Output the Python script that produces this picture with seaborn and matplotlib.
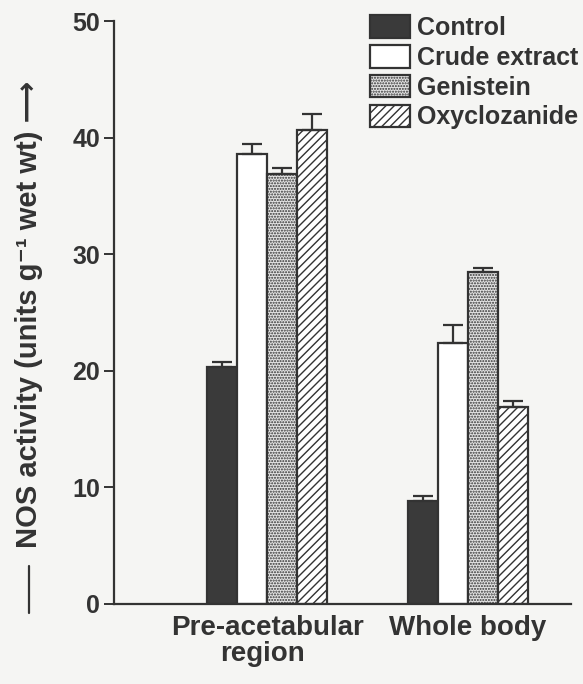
import numpy as np
import pandas as pd
import matplotlib
matplotlib.use('Agg')
import matplotlib.pyplot as plt
from matplotlib.lines import Line2D
import seaborn as sns

# values
regions = ['Pre-acetabular', 'Whole body']
treatments = ['Control', 'Crude extract', 'Genistein', 'Oxyclozanide']
control = [20.3, 8.8]
crude_extract = [38.6, 22.4]
genistein = [36.9, 28.5]
oxyclozanide = [40.7, 16.9]
control_err = [0.5, 0.5]
crude_extract_err = [0.9, 1.5]
genistein_err = [0.5, 0.3]
oxyclozanide_err = [1.3, 0.5]

means = [control, crude_extract, genistein, oxyclozanide]
errs = [control_err, crude_extract_err, genistein_err, oxyclozanide_err]

rows = []
for t, m, e in zip(treatments, means, errs):
    for r, v, s in zip(regions, m, e):
        rows.append({'region': r, 'treatment': t, 'nos': v, 'err': s})
df = pd.DataFrame(rows)

sns.set_style('ticks')
plt.rcParams['font.family'] = ['Liberation Sans', 'DejaVu Sans']
plt.rcParams['font.weight'] = 'bold'
plt.rcParams['hatch.linewidth'] = 1.0
plt.rcParams['hatch.color'] = '#333333'

bg = '#f5f5f3'
fig = plt.figure(figsize=(5.83, 6.84), dpi=100, facecolor=bg)
ax = fig.add_axes([0.1955, 0.117, 0.784, 0.852])
ax.set_facecolor(bg)

face = {'Control': '#3a3a3a', 'Crude extract': 'white',
        'Genistein': '#e4e4e4', 'Oxyclozanide': 'white'}
hatch = {'Control': '', 'Crude extract': '', 'Genistein': '......', 'Oxyclozanide': '////'}

sns.barplot(data=df, x='region', y='nos', hue='treatment', order=regions,
            hue_order=treatments, palette=face, width=0.6, errorbar=None,
            edgecolor='#333333', linewidth=1.6, ax=ax, legend=True)

# seaborn draws bars grouped by hue
for i, t in enumerate(treatments):
    for j, r in enumerate(regions):
        p = ax.patches[i * len(regions) + j]
        p.set_hatch(hatch[t])
        x = p.get_x() + p.get_width() / 2
        y = p.get_height()
        e = df[(df.treatment == t) & (df.region == r)]['err'].iloc[0]
        ax.errorbar(x, y, yerr=[[0], [e]], fmt='none', ecolor='#333333',
                    elinewidth=1.6, capsize=7, capthick=1.6, zorder=1)

ax.set_ylim(0, 50)
ax.set_xlim(-0.761, 1.512)
ax.set_yticks([0, 10, 20, 30, 40, 50])
ax.tick_params(axis='y', direction='out', length=7, width=1.4, labelsize=18,
               color='#333333', labelcolor='#333333', pad=3)
ax.tick_params(axis='x', length=0, labelsize=20, pad=8, labelcolor='#333333')
for lab in ax.get_yticklabels() + ax.get_xticklabels():
    lab.set_fontweight('bold')
sns.despine(ax=ax)
for s in ['left', 'bottom']:
    ax.spines[s].set_linewidth(1.6)
    ax.spines[s].set_color('#333333')

ax.set_xlabel('region', fontsize=20, fontweight='bold', color='#333333')
ax.xaxis.set_label_coords(0.324, -0.064)
ax.set_ylabel('NOS activity (units g\u207b\u00b9 wet wt) \u27f6',
              fontsize=21, fontweight='bold', color='#333333')
ax.yaxis.label.set_verticalalignment('center')
ax.yaxis.set_label_coords(-0.186, 0.497)
fig.add_artist(Line2D([29 / 583, 29 / 583], [1 - 613 / 684, 1 - 566 / 684],
                      color='#333333', lw=1.6))

handles, labels = ax.get_legend_handles_labels()
for h, t in zip(handles, treatments):
    h.set_hatch(hatch[t])
leg = ax.legend(handles, labels, loc='upper left', bbox_to_anchor=(0.56, 1.01),
                frameon=False, prop={'size': 18, 'weight': 'bold'},
                handlelength=1.6, handleheight=1.0, labelspacing=0.2,
                handletextpad=0.3, borderaxespad=0, borderpad=0)
for txt in leg.get_texts():
    txt.set_color('#333333')

fig.savefig('out.png', dpi=100, facecolor=fig.get_facecolor())
